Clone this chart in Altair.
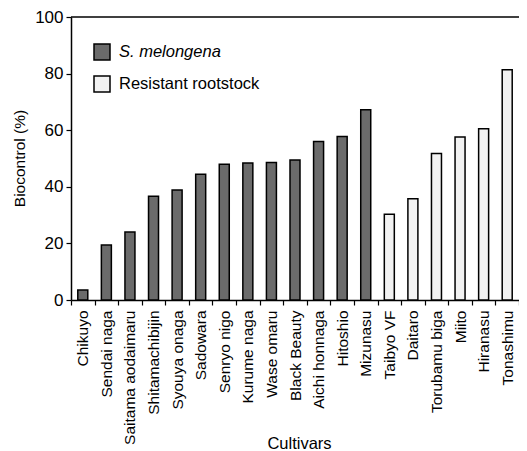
import altair as alt
import pandas as pd

cultivars = ["Chikuyo", "Sendai naga", "Saitama aodaimaru", "Shitamachibijin", "Syouya onaga",
             "Sadowara", "Senryo nigo", "Kurume naga", "Wase omaru", "Black Beauty",
             "Aichi honnaga", "Hitoshio", "Mizunasu", "Taibyo VF", "Daitaro",
             "Torubamu biga", "Miito", "Hiranasu", "Tonashimu"]
biocontrol = [3.5, 19.4, 24.0, 36.7, 38.9, 44.4, 48.0, 48.4, 48.6, 49.5,
              56.0, 57.8, 67.2, 30.3, 35.8, 51.8, 57.6, 60.5, 81.4]
groups = ["S. melongena"] * 13 + ["Resistant rootstock"] * 6
group_order = ["S. melongena", "Resistant rootstock"]
group_colors = ["#6b6b6b", "#f2f2f2"]

df = pd.DataFrame({"Cultivar": cultivars, "Biocontrol": biocontrol, "Group": groups})

FONT = "Liberation Sans"

bars = alt.Chart(df).mark_bar(
    size=10, stroke="black", strokeWidth=1.5
).encode(
    x=alt.X("Cultivar:N", sort=cultivars,
            scale=alt.Scale(paddingInner=0, paddingOuter=0),
            axis=alt.Axis(title="Cultivars", labelAngle=-90, labelAlign="right",
                          labelBaseline="middle", labelFontSize=15.5, labelPadding=5,
                          tickBand="extent", tickSize=5, tickColor="black", domainColor="black",
                          domainWidth=1.5, tickWidth=1.2,
                          titleFontSize=16.5, titleFontWeight="normal",
                          titleX=228, titleY=148, titleBaseline="alphabetic",
                          labelColor="black", titleColor="black")),
    y=alt.Y("Biocontrol:Q", scale=alt.Scale(domain=[0, 100]),
            axis=alt.Axis(title="Biocontrol (%)", values=[0, 20, 40, 60, 80, 100],
                          grid=False, tickSize=5, tickColor="black", domainColor="black",
                          domainWidth=1.5, tickWidth=1.2, labelFontSize=17, labelPadding=3,
                          titleFontSize=15.5, titleFontWeight="normal",
                          titleX=-52, titleY=141, titleAngle=-90, titleAlign="center",
                          titleBaseline="middle",
                          labelColor="black", titleColor="black")),
    fill=alt.Fill("Group:N", sort=group_order,
                  scale=alt.Scale(domain=group_order, range=group_colors),
                  legend=alt.Legend(title=None, orient="none", legendX=22, legendY=26,
                                    symbolType="square", symbolSize=256,
                                    symbolStrokeColor="black", symbolStrokeWidth=1.5,
                                    labelFontSize=16.5, labelOffset=8, rowPadding=10,
                                    padding=0, labelColor="black",
                                    labelFontStyle=alt.ExprRef(
                                        "datum.label == 'S. melongena' ? 'italic' : 'normal'")))
)

top_line = alt.Chart(pd.DataFrame({"edge": [100]})).mark_rule(
    color="black", strokeWidth=1.5
).encode(
    y=alt.Y("edge:Q"), x=alt.value(0), x2=alt.value(448)
)

chart = alt.layer(bars, top_line).properties(
    width=448, height=283,
    autosize=alt.AutoSizeParams(type="none"),
    padding={"left": 63, "top": 9, "right": 0, "bottom": 151}
).configure(
    font=FONT
).configure_view(
    stroke=None
)

chart.save("out.html", embed_options={"renderer": "svg", "actions": False})
